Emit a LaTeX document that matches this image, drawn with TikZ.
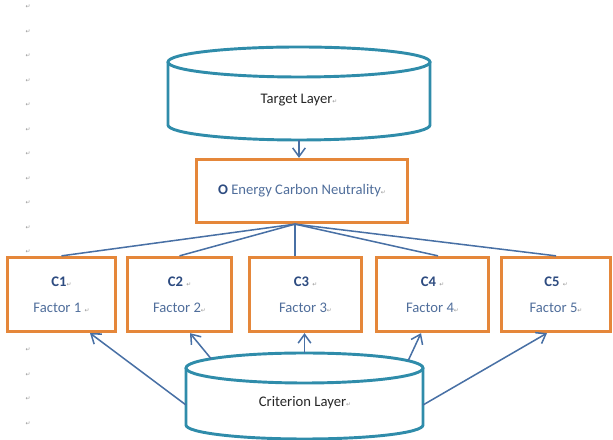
\documentclass[tikz,border=0pt]{standalone}
\usepackage{fontspec}
\setmainfont{Carlito}
\newfontfamily\dejavu{DejaVu Sans}
\usepackage{tikz}
\usetikzlibrary{arrows.meta}
\definecolor{boxorange}{RGB}{229,135,58}
\definecolor{layerblue}{RGB}{47,140,170}
\definecolor{linkblue}{RGB}{72,112,165}
\definecolor{labelblue}{RGB}{45,75,128}
\definecolor{factorblue}{RGB}{80,110,155}
\definecolor{markgray}{RGB}{150,150,150}
\newcommand{\parmark}{{\dejavu\fontsize{5}{5}\selectfont\color{markgray}↵}}
\tikzstyle{factor}=[draw=boxorange, line width=2.8pt, minimum height=2.22cm,
    align=center, text=factorblue, font=\fontsize{12.5}{22}\selectfont]
\tikzstyle{goal}=[draw=boxorange, line width=2.8pt, minimum width=6.33cm,
    minimum height=1.89cm, text=factorblue, font=\fontsize{12.5}{14}\selectfont]
\tikzstyle{layer}=[draw=layerblue, line width=2.5pt]
\tikzstyle{link}=[draw=linkblue, line width=1.3pt]
\tikzstyle{arr}=[link, -{Straight Barb[length=2.6mm,width=3.8mm]}]
\tikzstyle{pmark}=[inner sep=0pt]

\begin{document}
\begin{tikzpicture}
  \useasboundingbox (0,0) rectangle (18.39,13.2);
  % paragraph marks down the left margin
  \foreach \k in {0,...,10,14,15,16,17}
    \node at (0.84, 12.99-0.735*\k) (p\k)[pmark] {\parmark};

  % target layer (cylinder)
  \draw[layer] (5.04,11.34) -- (5.04,9.45)
      arc[start angle=180, end angle=360, x radius=3.93, y radius=0.45] -- (12.9,11.34);
  \draw[layer] (8.97,11.34) ellipse [x radius=3.93, y radius=0.45];
  \node[font=\fontsize{12.5}{14}\selectfont, text=black!85] at (8.97,10.2) (target) {Target Layer\parmark};
  \coordinate (tbot) at (8.97,9.0);

  \node at (9.06,7.47) (obox)[goal] {\textcolor{labelblue}{\textbf{O}} Energy Carbon Neutrality\parmark};

  \node at (1.845,4.365) (c1)[factor, minimum width=3.24cm] {\textbf{\textcolor{labelblue}{C1}}\parmark\\ Factor 1 \parmark};
  \node at (5.385,4.365) (c2)[factor, minimum width=3.12cm] {\textbf{\textcolor{labelblue}{C2}} \parmark\\ Factor 2\parmark};
  \node at (9.165,4.365) (c3)[factor, minimum width=3.36cm] {\textbf{\textcolor{labelblue}{C3}} \parmark\\ Factor 3\parmark};
  \node at (12.975,4.365) (c4)[factor, minimum width=3.36cm] {\textbf{\textcolor{labelblue}{C4}} \parmark\\ Factor 4\parmark};
  \node at (16.68,4.365) (c5)[factor, minimum width=3.27cm] {\textbf{\textcolor{labelblue}{C5}} \parmark\\ Factor 5\parmark};

  \draw[arr] (tbot) -- (tbot |- obox.north);

  % links from the goal to the factors
  \coordinate (hub) at ([xshift=-0.21cm]obox.south);
  \draw[link] (hub) -- (c1.north);
  \draw[link] (hub) -- (c2.north);
  \draw[link] (hub) -- (hub |- c3.north);
  \draw[link] (hub) -- ([xshift=0.165cm]c4.north);
  \draw[link] (hub) -- (c5.north);

  % criterion layer (cylinder)
  \draw[layer] (5.58,2.16) -- (5.58,0.45)
      arc[start angle=180, end angle=360, x radius=3.555, y radius=0.42] -- (12.69,2.16);
  \draw[layer] (9.135,2.16) ellipse [x radius=3.555, y radius=0.45];
  \coordinate (crit) at (9.135,2.16);
  \node[font=\fontsize{12.5}{14}\selectfont, text=black!85] at (9.15,1.11) (criterion) {Criterion Layer\parmark};

  \draw[arr] (crit) ++(-3.555,-1.11) -- ([xshift=0.855cm]c1.south);
  \draw[arr] (crit) ++(142:3.555 and 0.45) -- ([xshift=0.315cm]c2.south);
  \draw[arr] (crit) ++(0,0.45) -- (crit |- c3.south);
  \draw[arr] (crit) ++(29:3.555 and 0.45) -- ([xshift=-0.345cm]c4.south);
  \draw[arr] (crit) ++(3.555,-1.11) -- ([xshift=-0.27cm]c5.south);
\end{tikzpicture}
\end{document}
